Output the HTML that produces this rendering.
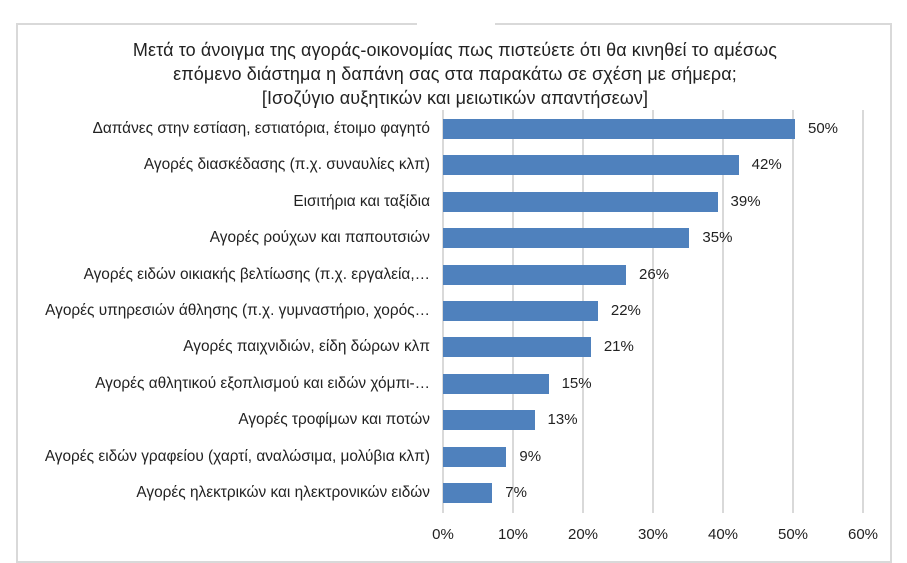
<!DOCTYPE html>
<html><head><meta charset="utf-8"><style>
body{margin:0;width:907px;height:536px;background:#fff;overflow:hidden;position:relative;font-family:"Liberation Sans",sans-serif;}
.frame{position:absolute;left:16px;top:23px;width:876px;height:540px;border:2px solid #d9d9d9;box-sizing:border-box;}
.gap{position:absolute;left:417px;top:20px;width:78px;height:6px;background:#fff;}
.title{position:absolute;left:0;width:910px;top:38px;text-align:center;font-size:18px;line-height:24px;color:#222;letter-spacing:0.1px;}
.g{position:absolute;top:110px;height:403px;width:2px;background:#d9d9d9;}
.bar{position:absolute;left:443px;height:20px;background:#4f81bd;}
.lab{position:absolute;right:477px;font-size:15.4px;color:#222;white-space:nowrap;}
.val{position:absolute;font-size:15px;color:#222;}
.t{position:absolute;top:526px;font-size:15px;color:#222;width:50px;margin-left:-25px;text-align:center;}
</style></head><body>
<div class="frame"></div><div class="gap"></div>
<div class="title">Μετά το άνοιγμα της αγοράς-οικονομίας πως πιστεύετε ότι θα κινηθεί το αμέσως<br>επόμενο διάστημα η δαπάνη σας στα παρακάτω σε σχέση με σήμερα;<br>[Ισοζύγιο αυξητικών και μειωτικών απαντήσεων]</div>
<div class="g" style="left:442px"></div><div class="g" style="left:512px"></div><div class="g" style="left:582px"></div><div class="g" style="left:652px"></div><div class="g" style="left:722px"></div><div class="g" style="left:792px"></div><div class="g" style="left:862px"></div>
<div class="t" style="left:443px">0%</div><div class="t" style="left:513px">10%</div><div class="t" style="left:583px">20%</div><div class="t" style="left:653px">30%</div><div class="t" style="left:723px">40%</div><div class="t" style="left:793px">50%</div><div class="t" style="left:863px">60%</div>
<div id="c"></div>
<script>
var d=[["Δαπάνες στην εστίαση, εστιατόρια, έτοιμο φαγητό",50],["Αγορές διασκέδασης (π.χ. συναυλίες κλπ)",42],["Εισιτήρια και ταξίδια",39],["Αγορές ρούχων και παπουτσιών",35],["Αγορές ειδών οικιακής βελτίωσης (π.χ. εργαλεία,…",26],["Αγορές υπηρεσιών άθλησης (π.χ. γυμναστήριο, χορός…",22],["Αγορές παιχνιδιών, είδη δώρων κλπ",21],["Αγορές αθλητικού εξοπλισμού και ειδών χόμπι-…",15],["Αγορές τροφίμων και ποτών",13],["Αγορές ειδών γραφείου (χαρτί, αναλώσιμα, μολύβια κλπ)",9],["Αγορές ηλεκτρικών και ηλεκτρονικών ειδών",7]];
var h="";d.forEach(function(r,i){var c=129+i*36.4;var w=r[1]*7.04;
h+='<div class="bar" style="top:'+(c-10)+'px;width:'+w+'px"></div>';
h+='<div class="lab" style="top:'+(c-9)+'px">'+r[0]+'</div>';
h+='<div class="val" style="top:'+(c-9)+'px;left:'+(443+w+13)+'px">'+r[1]+'%</div>';});
document.getElementById("c").innerHTML=h;
</script>
</body></html>
